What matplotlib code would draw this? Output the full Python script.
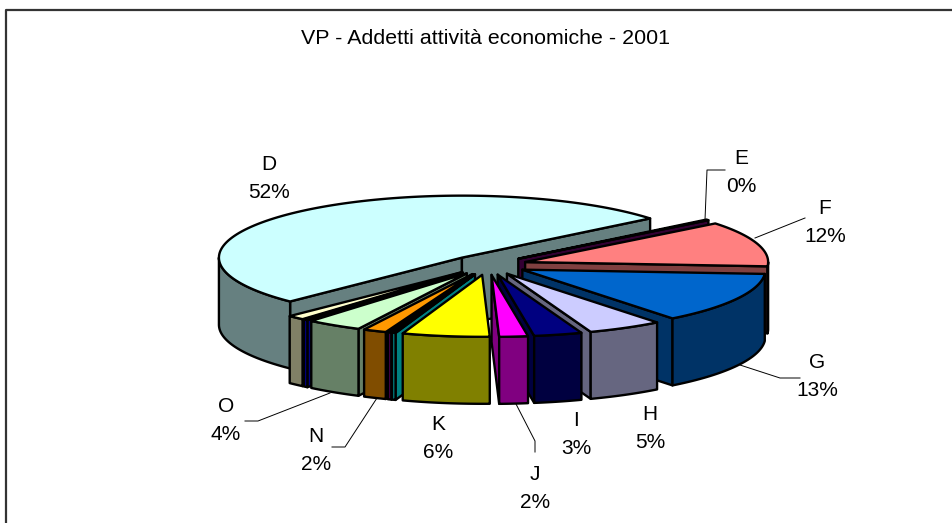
import numpy as np
import matplotlib
matplotlib.use("Agg")
import matplotlib.pyplot as plt
from matplotlib.patches import Polygon

plt.rcParams["font.family"] = ["Liberation Sans", "DejaVu Sans"]

names = ["D", "E", "F", "G", "H", "I", "J", "K", "L", "M", "N", "O", "P", "Q"]
values = [51.6, 0.2, 11.8, 13.3, 5.0, 3.2, 1.9, 5.8, 0.25, 0.25, 1.55, 3.7, 0.3, 1.15]
top_colors = ["#CCFFFF", "#660066", "#FF8080", "#0066CC", "#CCCCFF", "#000080", "#FF00FF",
              "#FFFF00", "#00FFFF", "#800080", "#FF9900", "#CCFFCC", "#0000FF", "#FFFFCC"]

# pie geometry in pixels
cx, cy = 488, 265
rx, ry = 243, 62
depth = 67
explode = 0.16
start = 225

fig = plt.figure(figsize=(9.53, 5.23), dpi=100)
ax = fig.add_axes([0, 0, 1, 1])
ax.set_xlim(0, 953)
ax.set_ylim(523, 0)
ax.axis("off")

# frame, only left and top show
ax.plot([6, 6, 953], [523, 10, 10], color="#333333", lw=1.6)


def rim(a, x0, y0):
    a = np.radians(a)
    return x0 + rx * np.cos(a), y0 - ry * np.sin(a)


def side_color(c):
    return tuple(v / 2 for v in matplotlib.colors.to_rgb(c))


total = sum(values)
spans = []
hi = start
for v in values:
    lo = hi - v / total * 360
    spans.append((lo, hi))
    hi = lo

order = sorted(range(len(values)), key=lambda i: -np.sin(np.radians(sum(spans[i]) / 2)))
for i in order:
    lo, hi = spans[i]
    mid = np.radians((lo + hi) / 2)
    x0 = cx + explode * rx * np.cos(mid)
    y0 = cy - explode * ry * np.sin(mid)
    side = side_color(top_colors[i])

    # cut faces, only the ones turned to the viewer
    for a, show in [(hi, np.cos(np.radians(hi)) < 0), (lo, np.cos(np.radians(lo)) > 0)]:
        if show:
            x1, y1 = rim(a, x0, y0)
            quad = [(x0, y0), (x1, y1), (x1, y1 + depth), (x0, y0 + depth)]
            ax.add_patch(Polygon(quad, fc=side, ec="black", lw=1.7, joinstyle="round"))

    # outer wall on the front half
    for k in [-1, 0]:
        a1 = max(lo, 180 + 360 * k)
        a2 = min(hi, 360 + 360 * k)
        if a2 > a1:
            t = np.linspace(a1, a2, 60)
            xs, ys = rim(t, x0, y0)
            wall = list(zip(xs, ys)) + list(zip(xs[::-1], ys[::-1] + depth))
            ax.add_patch(Polygon(wall, fc=side, ec="black", lw=1.7, joinstyle="round"))

    # top
    t = np.linspace(lo, hi, 120)
    xs, ys = rim(t, x0, y0)
    ax.add_patch(Polygon([(x0, y0)] + list(zip(xs, ys)), fc=top_colors[i], ec="black", lw=1.7,
                         joinstyle="round"))

fs = 15
ax.text(486, 38, "VP - Addetti attività economiche - 2001", ha="center", va="center", fontsize=15.4)

label_names = ["D", "E", "F", "G", "H", "I", "J", "K", "N", "O"]
label_pct = ["52%", "0%", "12%", "13%", "5%", "3%", "2%", "6%", "2%", "4%"]
label_x = [269, 741, 825, 817, 650, 576, 535, 438, 316, 226]
label_y = [164, 158, 208, 363, 415, 421, 475, 424, 436, 407]
for n, p, x, y in zip(label_names, label_pct, label_x, label_y):
    ax.text(x, y, n, ha="center", va="center", fontsize=fs)
    ax.text(x, y + 28, p, ha="center", va="center", fontsize=fs)

leaders = [
    ([705, 707, 725], [220, 170, 170]),
    ([755, 805], [238, 218]),
    ([740, 780, 800], [365, 378, 378]),
    ([516, 535, 535], [404, 441, 452]),
    ([330, 258, 245], [393, 421, 421]),
    ([377, 345, 332], [398, 447, 447]),
]
for xs, ys in leaders:
    ax.plot(xs, ys, color="black", lw=0.7)

fig.savefig("out.png", dpi=100)
